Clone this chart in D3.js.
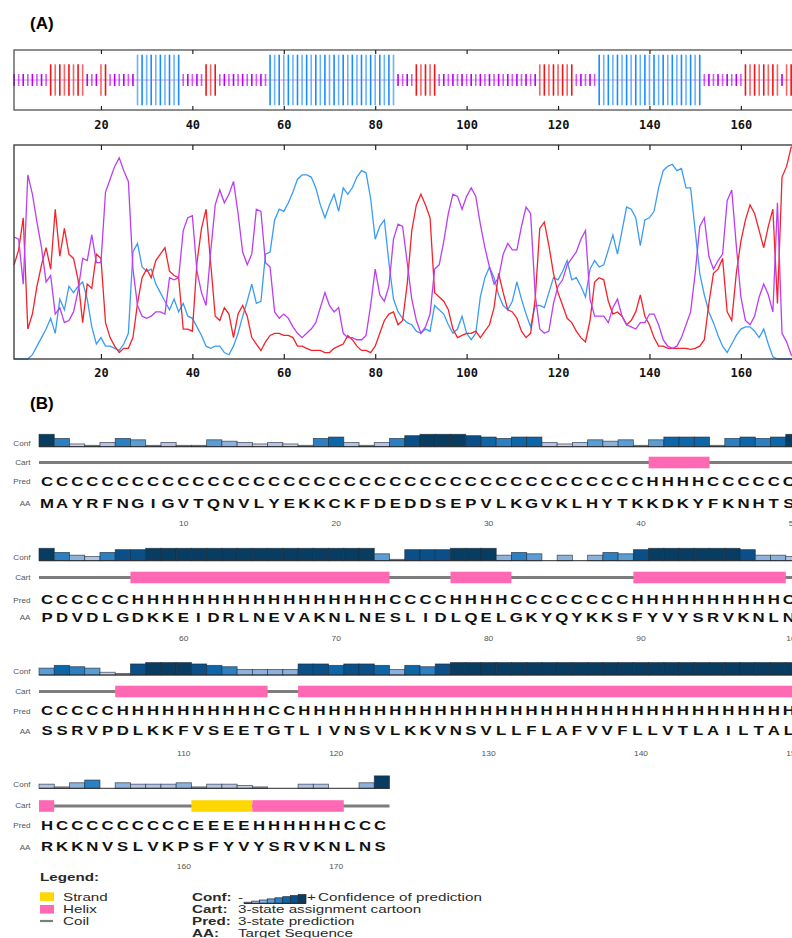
<!DOCTYPE html>
<html>
<head>
<meta charset="utf-8">
<script src="https://cdn.jsdelivr.net/npm/d3@7"></script>
<style>
body { margin: 0; background: #fff; }
svg { display: block; font-family: "Liberation Sans", Arial, sans-serif; }
</style>
</head>
<body>
<div class="chart"></div>
<script>
// ---------- data : panel A (per residue, 1..173) ----------
// h = helix (blue), e = extended strand (red), c = coil (violet)
var sopmaStates =
  "ccccccccee" + "eeeeeeccce" + "ecccccchhh" + "hhhhhhhccc" + "cceeeccccc" +
  "cccccchhhh" + "hhhhhhhhhh" + "hhhhhhhhhh" + "hhhhccccee" + "eeeccccccc" +
  "cccccccccc" + "ccccceeeee" + "eeeccccchh" + "hhhhhhhhhh" + "hhhhhhhhhh" +
  "hccccccccc" + "eeeeeeeece" + "eee";

var helixProb = [
  0, 0, 0, 0, 0.02, 0.06, 0.10, 0.14, 0.19, 0.12,
  0.28, 0.23, 0.34, 0.31, 0.34, 0.36, 0.28, 0.15, 0.07, 0.10,
  0.06, 0.06, 0.05, 0.04, 0.07, 0.12, 0.50, 0.54, 0.43, 0.41,
  0.42, 0.35, 0.31, 0.27, 0.23, 0.28, 0.22, 0.26, 0.20, 0.19,
  0.15, 0.11, 0.06, 0.05, 0.06, 0.06, 0.03, 0.02, 0.06, 0.12,
  0.20, 0.27, 0.35, 0.26, 0.27, 0.49, 0.50, 0.65, 0.70, 0.69,
  0.73, 0.78, 0.84, 0.86, 0.86, 0.85, 0.80, 0.72, 0.66, 0.72,
  0.77, 0.69, 0.80, 0.77, 0.80, 0.85, 0.88, 0.87, 0.75, 0.56,
  0.62, 0.65, 0.45, 0.28, 0.22, 0.19, 0.17, 0.16, 0.13, 0.12,
  0.14, 0.13, 0.25, 0.23, 0.21, 0.16, 0.12, 0.14, 0.20, 0.12,
  0.09, 0.12, 0.29, 0.38, 0.43, 0.38, 0.30, 0.25, 0.23, 0.27,
  0.36, 0.28, 0.21, 0.15, 0.25, 0.25, 0.24, 0.31, 0.38, 0.37,
  0.41, 0.46, 0.37, 0.38, 0.34, 0.29, 0.42, 0.46, 0.43, 0.44,
  0.51, 0.58, 0.49, 0.60, 0.71, 0.70, 0.66, 0.53, 0.65, 0.66,
  0.69, 0.80, 0.88, 0.90, 0.91, 0.88, 0.89, 0.80, 0.80, 0.60,
  0.40, 0.30, 0.22, 0.17, 0.11, 0.06, 0.03, 0.07, 0.11, 0.14,
  0.15, 0.15, 0.13, 0.10, 0.14, 0.07, 0.01, 0, 0, 0,
  0, 0, 0
];

var strandProb = [
  0.44, 0.51, 0.66, 0.14, 0.21, 0.34, 0.44, 0.52, 0.42, 0.70,
  0.48, 0.61, 0.49, 0.47, 0.37, 0.17, 0.35, 0.33, 0.49, 0.47,
  0.17, 0.10, 0.06, 0.03, 0.05, 0.05, 0.10, 0.26, 0.38, 0.42,
  0.38, 0.46, 0.49, 0.52, 0.41, 0.39, 0.38, 0.14, 0.14, 0.13,
  0.45, 0.61, 0.70, 0.45, 0.20, 0.18, 0.24, 0.21, 0.10, 0.21,
  0.25, 0.20, 0.10, 0.07, 0.04, 0.08, 0.11, 0.12, 0.12, 0.11,
  0.11, 0.10, 0.06, 0.06, 0.05, 0.04, 0.04, 0.04, 0.03, 0.03,
  0.05, 0.06, 0.07, 0.11, 0.09, 0.06, 0.04, 0.04, 0.03, 0.06,
  0.12, 0.18, 0.21, 0.22, 0.16, 0.18, 0.35, 0.60, 0.72, 0.77,
  0.72, 0.66, 0.31, 0.29, 0.27, 0.23, 0.14, 0.10, 0.11, 0.12,
  0.12, 0.13, 0.10, 0.13, 0.16, 0.24, 0.40, 0.31, 0.23, 0.22,
  0.19, 0.13, 0.10, 0.12, 0.28, 0.61, 0.64, 0.53, 0.40, 0.31,
  0.25, 0.19, 0.17, 0.13, 0.10, 0.08, 0.18, 0.36, 0.38, 0.37,
  0.27, 0.21, 0.22, 0.20, 0.16, 0.18, 0.22, 0.30, 0.20, 0.16,
  0.10, 0.06, 0.06, 0.05, 0.05, 0.05, 0.05, 0.05, 0.045, 0.05,
  0.06, 0.09, 0.26, 0.40, 0.42, 0.47, 0.22, 0.18, 0.40, 0.55,
  0.65, 0.72, 0.68, 0.60, 0.52, 0.62, 0.70, 0.26, 0.85, 0.90,
  0.99, 1.0, 1.0
];

var coilProb = [
  0.57, 0.56, 0.35, 0.86, 0.77, 0.64, 0.52, 0.36, 0.39, 0.21,
  0.24, 0.17, 0.18, 0.22, 0.32, 0.47, 0.46, 0.58, 0.45, 0.45,
  0.78, 0.84, 0.90, 0.94, 0.88, 0.83, 0.42, 0.25, 0.20, 0.19,
  0.20, 0.22, 0.22, 0.21, 0.38, 0.37, 0.38, 0.60, 0.66, 0.67,
  0.41, 0.31, 0.25, 0.50, 0.72, 0.79, 0.73, 0.77, 0.83, 0.68,
  0.50, 0.44, 0.49, 0.70, 0.69, 0.45, 0.43, 0.22, 0.19, 0.21,
  0.19, 0.15, 0.12, 0.10, 0.12, 0.14, 0.17, 0.24, 0.31, 0.25,
  0.22, 0.24, 0.12, 0.10, 0.10, 0.09, 0.09, 0.11, 0.25, 0.42,
  0.30, 0.27, 0.34, 0.56, 0.63, 0.62, 0.45, 0.28, 0.18, 0.12,
  0.15, 0.21, 0.42, 0.44, 0.55, 0.68, 0.77, 0.76, 0.70, 0.76,
  0.80, 0.76, 0.63, 0.52, 0.43, 0.35, 0.38, 0.49, 0.54, 0.51,
  0.51, 0.62, 0.71, 0.68, 0.30, 0.14, 0.12, 0.13, 0.26, 0.34,
  0.37, 0.44, 0.47, 0.50, 0.56, 0.60, 0.28, 0.20, 0.20, 0.20,
  0.17, 0.24, 0.28, 0.20, 0.16, 0.15, 0.14, 0.17, 0.17, 0.21,
  0.21, 0.16, 0.09, 0.06, 0.05, 0.06, 0.10, 0.16, 0.22, 0.40,
  0.62, 0.66, 0.48, 0.42, 0.46, 0.49, 0.74, 0.79, 0.53, 0.29,
  0.18, 0.16, 0.20, 0.29, 0.35, 0.30, 0.22, 0.73, 0.12, 0.08,
  0.02, 0, 0
];

var axisTicksA = [20, 40, 60, 80, 100, 120, 140, 160];

// ---------- data : panel B ----------
var sequence =
  "MAYRFNGIGVTQNVLYEKKCKFDEDDSEPVLKGVKLHYTKKDKYFKNHTS" +
  "PDVDLGDKKEIDRLNEVAKNLNESLIDLQELGKYQYKKSFYVYSRVKNLN" +
  "SSRVPDLKKFVSEETGTLIVNSVLKKVNSVLLFLAFVVFLLVTLAILTAL" +
  "RKKNVSLVKPSFYVYSRVKNLNS";

var prediction =
  "CCCCCCCCCCCCCCCCCCCCCCCCCCCCCCCCCCCCCCCCHHHHCCCCCC" +
  "CCCCCCHHHHHHHHHHHHHHHHHCCCCHHHHCCCCCCCCHHHHHHHHHHC" +
  "CCCCCHHHHHHHHHHCCHHHHHHHHHHHHHHHHHHHHHHHHHHHHHHHHH" +
  "HCCCCCCCCCEEEEHHHHHHCCC";

var confidence = [
  9, 6, 2, 1, 3, 6, 5, 1, 3, 1,  1, 5, 4, 3, 2, 3, 2, 1, 6, 7,
  3, 1, 3, 6, 8, 9, 9, 9, 8, 7,  6, 7, 7, 3, 2, 3, 5, 4, 5, 1,
  5, 7, 7, 7, 1, 6, 7, 6, 7, 9,
  9, 6, 4, 3, 6, 8, 8, 9, 9, 9,  9, 9, 9, 9, 9, 9, 9, 9, 9, 9,
  9, 9, 5, 1, 8, 8, 8, 9, 9, 9,  4, 6, 5, 0, 4, 0, 4, 6, 5, 8,
  9, 9, 9, 9, 9, 9, 8, 4, 4, 3,
  5, 7, 6, 5, 2, 1, 8, 9, 9, 9,  8, 7, 6, 4, 4, 4, 4, 8, 8, 7,
  8, 8, 7, 4, 7, 6, 8, 9, 9, 9,  9, 9, 9, 9, 9, 9, 9, 9, 9, 9,
  9, 9, 9, 9, 9, 9, 9, 9, 9, 9,
  3, 1, 4, 6, 0, 4, 3, 3, 3, 4,  1, 3, 3, 2, 1, 0, 0, 3, 3, 0,
  0, 4, 9
];

var rowStarts = [1, 51, 101, 151];
var rowLength = 50;

var legendStates = ["Strand", "Helix", "Coil"];
var legendKeys = ["Conf:", "Cart:", "Pred:", "AA:"];
var legendTexts = ["Confidence of prediction", "3-state assignment cartoon",
                   "3-state prediction", "Target Sequence"];

// ---------- setup ----------
var W = 792, H = 938;
var svg = d3.select(".chart").append("svg")
  .attr("width", W).attr("height", H);
svg.append("rect").attr("width", W).attr("height", H).attr("fill", "#fff");

var stateColor = { h: "#1a8cff", e: "#f01414", c: "#b800f5" };
var lineColor = { h: "#3a9cf5", e: "#f5222a", c: "#bb3ef2" };
var barHalf = { h: 25.3, e: 15.7, c: 6 };

var residues = d3.range(1, sequence.length + 1);
var xA = d3.scaleLinear().domain([1, 173]).range([14.1, 800.3]);

// ---------- panel A ----------
svg.append("text").attr("x", 30).attr("y", 29)
  .attr("font-size", 17).attr("font-weight", "bold").text("(A)");

// strip
var stripTop = 50, stripBot = 110, stripMid = 80;
var strip = svg.append("g");
strip.append("line")
  .attr("x1", 14).attr("x2", W).attr("y1", stripMid).attr("y2", stripMid)
  .attr("stroke", "#d890f0").attr("stroke-width", 1);
strip.selectAll("line.res")
  .data(residues)
  .enter().append("line")
  .attr("class", "res")
  .attr("x1", d => xA(d)).attr("x2", d => xA(d))
  .attr("y1", d => stripMid - barHalf[sopmaStates[d - 1]])
  .attr("y2", d => stripMid + barHalf[sopmaStates[d - 1]])
  .attr("stroke", d => stateColor[sopmaStates[d - 1]])
  .attr("stroke-width", 1.6)
  .attr("opacity", (d, i) => i % 2 ? 0.65 : 1);
strip.append("rect")
  .attr("x", 14).attr("y", stripTop).attr("width", 800).attr("height", stripBot - stripTop)
  .attr("fill", "none").attr("stroke", "#444").attr("stroke-width", 1.2);

function monoAxis(g) {
  g.select(".domain").remove();
  g.selectAll("line").attr("stroke", "#222").attr("stroke-width", 1.2);
  g.selectAll("text")
    .attr("font-family", "'DejaVu Sans Mono', 'Liberation Mono', monospace")
    .attr("font-weight", "bold").attr("font-size", 12).attr("fill", "#111");
}

svg.append("g").attr("transform", "translate(0," + stripBot + ")")
  .call(d3.axisBottom(xA).tickValues(axisTicksA).tickSizeInner(-4).tickSizeOuter(0).tickPadding(10))
  .call(monoAxis);
svg.append("g").attr("transform", "translate(0," + stripTop + ")")
  .call(d3.axisTop(xA).tickValues(axisTicksA).tickSizeInner(-4).tickSizeOuter(0).tickFormat(""))
  .call(monoAxis);

// probability curves
var plotTop = 145, plotBot = 359;
var yA = d3.scaleLinear().domain([0, 1]).range([plotBot, plotTop]);

var series = [
  { key: "h", values: helixProb },
  { key: "e", values: strandProb },
  { key: "c", values: coilProb }
];
var line = d3.line()
  .x((d, i) => xA(i + 1))
  .y(d => yA(d));

svg.append("g").selectAll("path")
  .data(series)
  .enter().append("path")
  .attr("d", d => line(d.values))
  .attr("fill", "none")
  .attr("stroke", d => lineColor[d.key])
  .attr("stroke-width", 1.3);

svg.append("rect")
  .attr("x", 14).attr("y", plotTop).attr("width", 800).attr("height", plotBot - plotTop)
  .attr("fill", "none").attr("stroke", "#333").attr("stroke-width", 1.3);
svg.append("g").attr("transform", "translate(0," + plotBot + ")")
  .call(d3.axisBottom(xA).tickValues(axisTicksA).tickSizeInner(-5).tickSizeOuter(0).tickPadding(9))
  .call(monoAxis);
svg.append("g").attr("transform", "translate(0," + plotTop + ")")
  .call(d3.axisTop(xA).tickValues(axisTicksA).tickSizeInner(-5).tickSizeOuter(0).tickFormat(""))
  .call(monoAxis);

// ---------- panel B ----------
svg.append("text").attr("x", 30).attr("y", 409)
  .attr("font-size", 17).attr("font-weight", "bold").text("(B)");

var cellStep = 15.24, cellX0 = 39;
var charStep = 15.14, charX0 = 47;
var confUnit = 1.38;
var confColors = ["#9a9a9a", "#a9a9b2", "#c9cee2", "#b4c3e4", "#8cb2dc",
                  "#5b9dd2", "#2c80c1", "#0d66a8", "#0a4f87", "#083c61"];
var helixColor = "#ff69b4", strandColor = "#ffd700", coilColor = "#7d7d7d";

var rowLayout = [
  { conf: 446.7, cart: 462.5, pred: 481.7, aa: 503.3, tick: 523.3 },
  { conf: 560.7, cart: 577.5, pred: 600.0, aa: 617.3, tick: 638.0 },
  { conf: 675.0, cart: 691.5, pred: 711.0, aa: 731.0, tick: 753.0 },
  { conf: 788.3, cart: 806.0, pred: 825.7, aa: 847.0, tick: 866.7 }
];

var cellX = (r, start) => cellX0 + (r - start) * cellStep;
var charX = (r, start) => charX0 + (r - start) * charStep;

rowStarts.forEach(function (start, ri) {
  var lay = rowLayout[ri];
  var rowRes = residues.filter(r => r >= start && r < start + rowLength);
  var end = rowRes[rowRes.length - 1];
  var g = svg.append("g");

  // row labels
  var labels = [["Conf", lay.conf - 1], ["Cart", lay.cart + 2], ["Pred", lay.pred + 2.5], ["AA", lay.aa + 2.5]];
  g.selectAll("text.lab").data(labels).enter().append("text")
    .attr("class", "lab")
    .attr("transform", d => "translate(30.5," + d[1] + ") scale(1.25,1)")
    .attr("text-anchor", "end").attr("font-size", 6.5).attr("fill", "#555")
    .text(d => d[0]);

  // confidence bars
  g.selectAll("rect.conf").data(rowRes.filter(r => confidence[r - 1] > 0)).enter().append("rect")
    .attr("class", "conf")
    .attr("x", r => cellX(r, start))
    .attr("y", r => lay.conf - confidence[r - 1] * confUnit)
    .attr("width", cellStep)
    .attr("height", r => confidence[r - 1] * confUnit)
    .attr("fill", r => confColors[confidence[r - 1]])
    .attr("stroke", "#1e2c3a").attr("stroke-width", 0.8).attr("stroke-opacity", 0.75);
  g.append("line")
    .attr("x1", cellX(start, start)).attr("x2", cellX(end + 1, start))
    .attr("y1", lay.conf).attr("y2", lay.conf)
    .attr("stroke", "#2a2a2a").attr("stroke-width", 1);

  // cartoon
  g.append("line")
    .attr("x1", cellX(start, start)).attr("x2", cellX(end + 1, start))
    .attr("y1", lay.cart).attr("y2", lay.cart)
    .attr("stroke", coilColor).attr("stroke-width", 3);
  var runs = [];
  rowRes.forEach(function (r) {
    var s = prediction[r - 1];
    if (s === "C") return;
    var last = runs[runs.length - 1];
    if (last && last.s === s && last.to === r - 1) last.to = r;
    else runs.push({ s: s, from: r, to: r });
  });
  g.selectAll("rect.cart").data(runs).enter().append("rect")
    .attr("class", "cart")
    .attr("x", d => cellX(d.from, start))
    .attr("y", lay.cart - 5.8)
    .attr("width", d => (d.to - d.from + 1) * cellStep)
    .attr("height", 11.6)
    .attr("fill", d => d.s === "H" ? helixColor : strandColor);

  // prediction and sequence letters
  [["pred", prediction], ["aa", sequence]].forEach(function (p) {
    g.selectAll("text." + p[0]).data(rowRes).enter().append("text")
      .attr("class", p[0])
      .attr("transform", r => "translate(" + charX(r, start) + "," + (lay[p[0]] + 4.4) + ") scale(1.4,1)")
      .attr("text-anchor", "middle")
      .attr("font-size", 12).attr("font-weight", "bold").attr("fill", "#111")
      .text(r => p[1][r - 1]);
  });

  // residue numbers (centred on the cells)
  g.selectAll("text.num").data(rowRes.filter(r => r % 10 === 0)).enter().append("text")
    .attr("class", "num")
    .attr("transform", r => "translate(" + (cellX(r, start) + cellStep / 2) + "," + (lay.tick + 2.5) + ") scale(1.3,1)")
    .attr("text-anchor", "middle").attr("font-size", 6.5).attr("fill", "#555")
    .text(r => r);
});

// ---------- legend ----------
var lg = svg.append("g").attr("fill", "#2a2a2a");
var legendScale = " scale(1.52,1)";
lg.append("text").attr("transform", "translate(40,880.7)" + legendScale)
  .attr("font-size", 10).attr("font-weight", "bold").text("Legend:");

var swatchY = [892.3, 905, 921];
lg.append("rect").attr("x", 40).attr("y", swatchY[0]).attr("width", 14).attr("height", 8.6).attr("fill", strandColor);
lg.append("rect").attr("x", 40).attr("y", swatchY[1]).attr("width", 14).attr("height", 8.6).attr("fill", helixColor);
lg.append("line").attr("x1", 40).attr("x2", 53).attr("y1", swatchY[2]).attr("y2", swatchY[2])
  .attr("stroke", coilColor).attr("stroke-width", 2.2);

var lineY = [900.7, 912.8, 924.8, 936.5];
lg.selectAll("text.st").data(legendStates).enter().append("text")
  .attr("class", "st")
  .attr("transform", (d, i) => "translate(63," + lineY[i] + ")" + legendScale)
  .attr("font-size", 10).text(d => d);
lg.selectAll("text.key").data(legendKeys).enter().append("text")
  .attr("class", "key")
  .attr("transform", (d, i) => "translate(192," + lineY[i] + ")" + legendScale)
  .attr("font-size", 10).attr("font-weight", "bold").text(d => d);
lg.selectAll("text.desc").data(legendTexts).enter().append("text")
  .attr("class", "desc")
  .attr("transform", (d, i) => "translate(" + (i === 0 ? 318 : 238) + "," + lineY[i] + ")" + legendScale)
  .attr("font-size", 10).text(d => d);
lg.append("text").attr("transform", "translate(238,900.7)" + legendScale).attr("font-size", 10).text("-");
lg.append("text").attr("transform", "translate(307,900.7)" + legendScale).attr("font-size", 10).text("+");

// mini confidence scale
var miniLevels = d3.range(2, 10);
var miniX = d3.scaleBand().domain(miniLevels).range([244, 306]);
lg.selectAll("rect.mini").data(miniLevels).enter().append("rect")
  .attr("class", "mini")
  .attr("x", d => miniX(d)).attr("width", miniX.bandwidth())
  .attr("y", d => 903.3 - (d - 1) * 1.1).attr("height", d => (d - 1) * 1.1)
  .attr("fill", d => confColors[d]).attr("stroke", "#1e2c3a").attr("stroke-width", 0.7);
lg.append("line").attr("x1", 244).attr("x2", 306).attr("y1", 903.3).attr("y2", 903.3)
  .attr("stroke", "#222").attr("stroke-width", 1);
</script>
</body>
</html>
